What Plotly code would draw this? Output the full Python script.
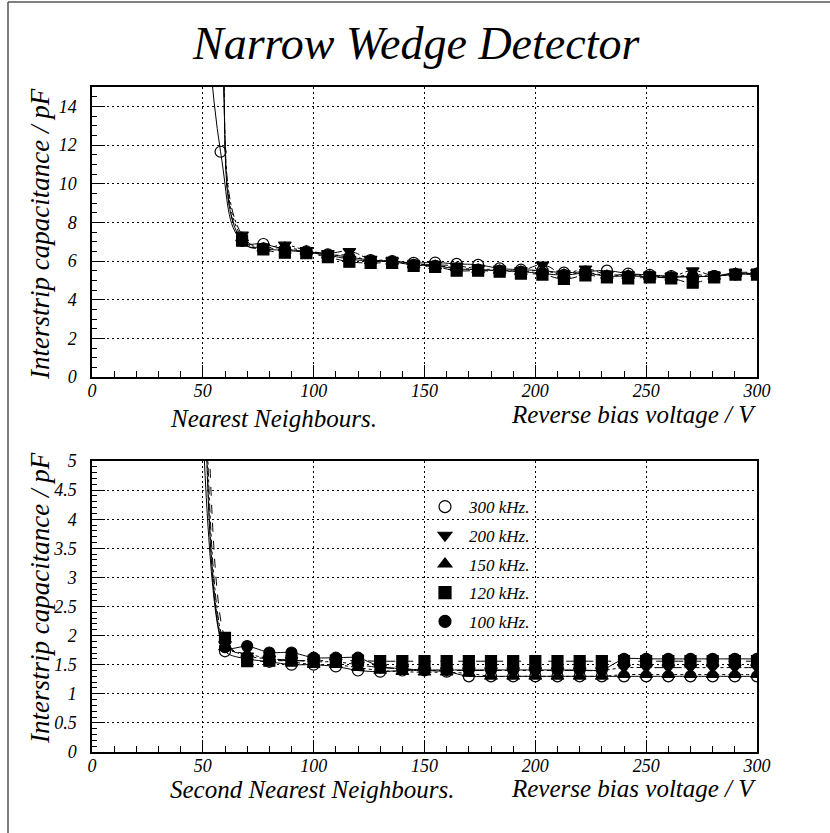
import plotly.graph_objects as go

# ---------------- data ----------------
# Nearest neighbours: bias voltage steps (V) and interstrip capacitance (pF)
nn_voltage = [48.3, 58.0, 67.7, 77.3, 87.0, 96.7, 106.4, 116.1, 125.7, 135.4, 145.1,
              154.8, 164.5, 174.2, 183.9, 193.5, 203.2, 212.9, 222.6, 232.3, 241.9,
              251.6, 261.3, 271.0, 280.7, 290.3, 300.0]
nn_300k = [26.0, 11.65, 7.05, 6.88, 6.62, 6.50, 6.35, 6.20, 6.05, 6.00, 5.90, 5.92, 5.85,
           5.80, 5.62, 5.55, 5.50, 5.40, 5.45, 5.50, 5.35, 5.28, 5.22, 5.20, 5.22, 5.30, 5.35]
nn_200k = [45.0, 21.0, 7.35, 6.70, 6.83, 6.55, 6.40, 6.50, 6.10, 6.02, 5.85, 5.80, 5.75,
           5.60, 5.55, 5.50, 5.80, 5.35, 5.60, 5.30, 5.30, 5.25, 5.20, 5.50, 5.25, 5.40, 5.40]
nn_150k = [42.0, 20.0, 7.20, 6.65, 6.70, 6.50, 6.30, 6.30, 6.00, 5.98, 5.80, 5.75, 5.65,
           5.55, 5.50, 5.45, 5.50, 5.30, 5.40, 5.25, 5.25, 5.20, 5.15, 5.30, 5.20, 5.35, 5.35]
nn_120k = [40.0, 19.0, 7.05, 6.60, 6.43, 6.40, 6.20, 5.96, 5.90, 5.90, 5.75, 5.70, 5.50,
           5.50, 5.45, 5.35, 5.30, 5.07, 5.25, 5.15, 5.10, 5.15, 5.10, 4.88, 5.15, 5.30, 5.30]
nn_100k = [38.0, 18.0, 7.05, 6.65, 6.55, 6.45, 6.30, 6.10, 6.00, 5.95, 5.80, 5.75, 5.60,
           5.55, 5.50, 5.45, 5.35, 5.28, 5.36, 5.22, 5.22, 5.19, 5.16, 5.19, 5.22, 5.33, 5.33]

# Second nearest neighbours
snn_voltage = [50, 60, 70, 80, 90, 100, 110, 120, 130, 140, 150, 160, 170, 180, 190,
               200, 210, 220, 230, 240, 250, 260, 270, 280, 290, 300]
snn_300k = [5.6, 1.73, 1.60, 1.55, 1.50, 1.50, 1.47, 1.40, 1.38, 1.40, 1.40, 1.38, 1.30,
            1.30, 1.30, 1.30, 1.30, 1.30, 1.30, 1.30, 1.30, 1.30, 1.30, 1.30, 1.30, 1.30]
snn_200k = [12.0, 1.85, 1.65, 1.60, 1.58, 1.55, 1.55, 1.50, 1.45, 1.43, 1.40, 1.40, 1.40,
            1.40, 1.40, 1.40, 1.40, 1.40, 1.40, 1.45, 1.45, 1.45, 1.45, 1.45, 1.45, 1.45]
snn_150k = [14.0, 1.80, 1.69, 1.60, 1.55, 1.50, 1.50, 1.45, 1.40, 1.38, 1.37, 1.37, 1.35,
            1.30, 1.30, 1.30, 1.30, 1.30, 1.30, 1.33, 1.33, 1.33, 1.33, 1.33, 1.33, 1.33]
snn_120k = [16.0, 1.96, 1.56, 1.57, 1.57, 1.57, 1.57, 1.57, 1.56, 1.56, 1.56, 1.56, 1.56,
            1.56, 1.56, 1.56, 1.56, 1.56, 1.56, 1.56, 1.56, 1.56, 1.56, 1.56, 1.56, 1.56]
snn_100k = [9.0, 1.80, 1.82, 1.71, 1.71, 1.62, 1.62, 1.62, 1.47, 1.43, 1.41, 1.41, 1.41,
            1.41, 1.41, 1.41, 1.41, 1.41, 1.41, 1.60, 1.60, 1.60, 1.60, 1.60, 1.60, 1.60]

freq_labels = ["300 kHz.", "200 kHz.", "150 kHz.", "120 kHz.", "100 kHz."]
x_ticks = [0, 50, 100, 150, 200, 250, 300]

# ---------------- styling ----------------
W, H = 830, 833
ML, MR, MT, MB = 92, 73, 87, 81
PW, PH = W - ML - MR, H - MT - MB
SERIF = "Liberation Serif, Times New Roman, serif"

def fx(px):
    return (px - ML) / PW

def fy(py):
    return (H - MB - py) / PH

symbols = ["circle-open", "triangle-down", "triangle-up", "square", "circle"]
dashes = ["solid", "dashdot", "dot", "dash", "solid"]

fig = go.Figure()

top_sets = [nn_300k, nn_200k, nn_150k, nn_120k, nn_100k]
bot_sets = [snn_300k, snn_200k, snn_150k, snn_120k, snn_100k]

for i in range(5):
    mk = dict(symbol=symbols[i], size=11, color="black", line=dict(color="black", width=1.2))
    fig.add_trace(go.Scatter(
        x=nn_voltage, y=top_sets[i], mode="lines+markers", xaxis="x", yaxis="y",
        line=dict(color="black", width=1, dash=dashes[i], shape="spline", smoothing=1.3),
        marker=mk, showlegend=False, cliponaxis=True))
    fig.add_trace(go.Scatter(
        x=snn_voltage, y=bot_sets[i], mode="lines+markers", xaxis="x2", yaxis="y2",
        line=dict(color="black", width=1, dash=dashes[i], shape="spline", smoothing=0.7),
        marker=mk, showlegend=False, cliponaxis=True))

# legend entries: marker symbol only
for i in range(5):
    fig.add_trace(go.Scatter(
        x=[None], y=[None], mode="markers", xaxis="x2", yaxis="y2",
        marker=dict(symbol=symbols[i], size=12, color="black", line=dict(color="black", width=1.2)),
        name=freq_labels[i], legendgroup=str(i), showlegend=True))

tickfont = dict(family=SERIF, size=18, color="black", style="italic")

def xaxis_cfg(domain_anchor):
    return dict(
        domain=[0, 1], anchor=domain_anchor, range=[0, 300],
        tickvals=x_ticks, ticks="inside", ticklen=12, tickwidth=1, tickcolor="black",
        minor=dict(dtick=10, tick0=0, ticks="inside", ticklen=6, tickcolor="black", showgrid=False),
        showgrid=True, gridcolor="black", gridwidth=1, griddash="2px,3px",
        showline=True, linecolor="black", linewidth=1.5, mirror=True,
        zeroline=False, tickfont=tickfont, ticklabelstandoff=-3,
    )

def yaxis_cfg(domain, rng, dtick, minor_dtick, anchor):
    return dict(
        domain=domain, anchor=anchor, range=rng, dtick=dtick, tick0=0,
        ticks="inside", ticklen=13, tickwidth=1, tickcolor="black",
        minor=dict(dtick=minor_dtick, tick0=0, ticks="inside", ticklen=5, tickcolor="black", showgrid=False),
        showgrid=True, gridcolor="black", gridwidth=1, griddash="2px,3px",
        showline=True, linecolor="black", linewidth=1.5, mirror=True,
        zeroline=False, tickfont=tickfont, ticklabelstandoff=10,
    )

annots = []
def label(text, x, y, size, xanchor="center", angle=0):
    annots.append(dict(text=f"<i>{text}</i>", x=fx(x), y=fy(y), xref="paper", yref="paper",
                       xanchor=xanchor, yanchor="middle", showarrow=False, textangle=angle,
                       font=dict(family=SERIF, size=size, color="black")))

label("Narrow Wedge Detector", 416, 44, 46)
label("Interstrip capacitance / pF", 40, 234, 27, angle=-90)
label("Interstrip capacitance / pF", 40, 598, 27, angle=-90)
label("Nearest Neighbours.", 168, 418, 25, xanchor="left")
label("Reverse bias voltage / V", 758, 414, 25, xanchor="right")
label("Second Nearest Neighbours.", 168, 789, 25, xanchor="left")
label("Reverse bias voltage / V", 758, 788, 25, xanchor="right")

fig.update_layout(
    width=W, height=H,
    margin=dict(l=ML, r=MR, t=MT, b=MB, pad=0),
    paper_bgcolor="white", plot_bgcolor="white",
    xaxis=xaxis_cfg("y"),
    yaxis=yaxis_cfg([fy(377), fy(87)], [0, 15], 2, 0.5, "x"),
    xaxis2=xaxis_cfg("y2"),
    yaxis2=yaxis_cfg([0, fy(461)], [0, 5], 0.5, 0.1, "x2"),
    annotations=annots,
    legend=dict(x=fx(421), y=fy(489), xanchor="left", yanchor="top",
                bgcolor="rgba(0,0,0,0)", borderwidth=0, tracegroupgap=3.6,
                font=dict(family=SERIF, size=17, color="black", style="italic"),
                itemwidth=38),
    shapes=[
        dict(type="line", xref="paper", yref="paper", x0=fx(8), x1=fx(830), y0=fy(2), y1=fy(2),
             line=dict(color="#555555", width=1.5)),
        dict(type="line", xref="paper", yref="paper", x0=fx(8), x1=fx(8), y0=fy(2), y1=fy(833),
             line=dict(color="#555555", width=1.5)),
    ],
)

fig.write_html("out.html")
